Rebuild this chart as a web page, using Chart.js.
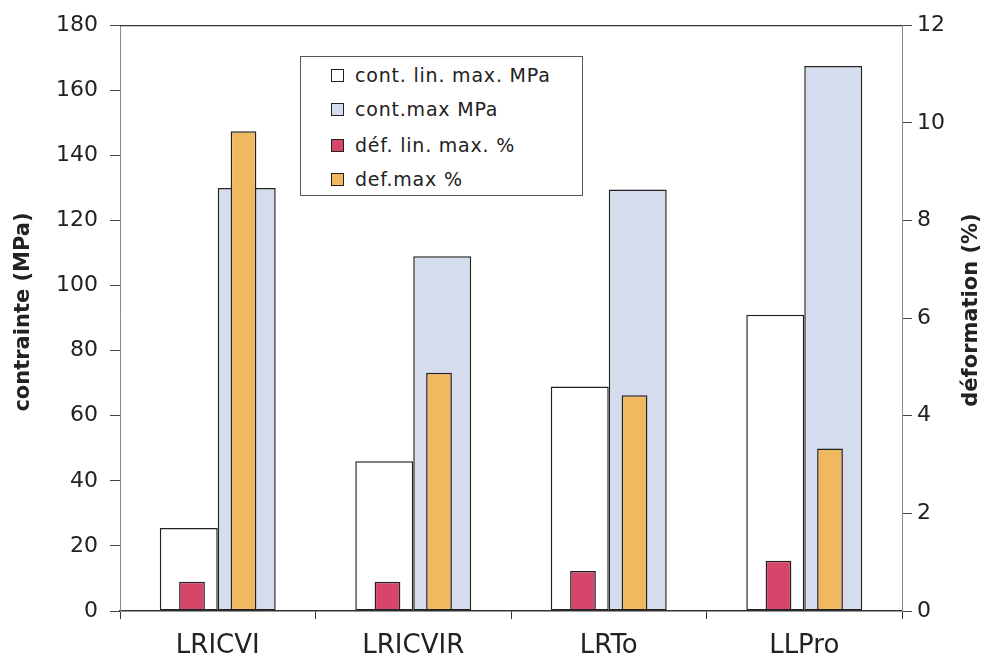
<!DOCTYPE html>
<html>
<head>
<meta charset="utf-8">
<script src="https://cdn.jsdelivr.net/npm/chart.js@4.4.1/dist/chart.umd.min.js"></script>
<style>
  html, body { margin: 0; padding: 0; background: #fff; }
  #wrap { position: relative; width: 984px; height: 666px; }
  #legend {
    position: absolute; left: 300px; top: 56px; width: 283px; height: 140px;
    border: 1px solid #555; background: #fff; box-sizing: border-box;
    font-family: "DejaVu Sans", sans-serif; font-size: 19px; color: #222;
    letter-spacing: 0.8px;
  }
  #legend .item { position: absolute; left: 30px; height: 22px; line-height: 22px; white-space: nowrap; }
  #legend .sw { display: inline-block; width: 11px; height: 11px; border: 1.5px solid #222; vertical-align: middle; margin-right: 11px; position: relative; top: -1px; }
</style>
</head>
<body>
<div id="wrap">
  <canvas id="chart" width="984" height="666"></canvas>
  <div id="legend"></div>
</div>
<script>
const categories = ["LRICVI", "LRICVIR", "LRTo", "LLPro"];
const contLinMax = [25.5, 46, 69, 91];      // MPa, left axis
const contMax = [130, 109, 129.5, 167.5];    // MPa, left axis
const defLinMax = [0.6, 0.6, 0.82, 1.03];    // %, right axis
const defMax = [9.83, 4.88, 4.42, 3.33];     // %, right axis
const leftTicks = [0, 20, 40, 60, 80, 100, 120, 140, 160, 180];
const rightTicks = [0, 2, 4, 6, 8, 10, 12];

const seriesNames = ["cont. lin. max. MPa", "cont.max MPa", "déf. lin. max. %", "def.max %"];
const seriesColors = ["#ffffff", "#d5dcee", "#d6466b", "#f0b95f"];

const FONT = "'DejaVu Sans', sans-serif";

// axis titles + top frame line
const framePlugin = {
  id: "frame",
  afterDraw(chart) {
    const { ctx, chartArea: a } = chart;
    ctx.save();
    ctx.strokeStyle = "#333";
    ctx.lineWidth = 1.2;
    ctx.beginPath();
    ctx.moveTo(a.left, a.top + 0.5);
    ctx.lineTo(a.right, a.top + 0.5);
    ctx.stroke();

    ctx.fillStyle = "#222";
    ctx.font = "bold 21px " + FONT;
    ctx.textAlign = "center";
    ctx.textBaseline = "middle";
    ctx.translate(24, 312);
    ctx.rotate(-Math.PI / 2);
    ctx.fillText("contrainte (MPa)", 0, 0);
    ctx.restore();

    ctx.save();
    ctx.fillStyle = "#222";
    ctx.font = "bold 21px " + FONT;
    ctx.textAlign = "center";
    ctx.textBaseline = "middle";
    ctx.translate(972, 310);
    ctx.rotate(-Math.PI / 2);
    ctx.fillText("déformation (%)", 0, 0);
    ctx.restore();
  }
};

// primary (MPa) bars fill the slot, the % bars sit narrower on top in the same two slots
const barBase = { borderColor: "#222", borderWidth: 1.5, borderSkipped: false };

const ctx = document.getElementById("chart").getContext("2d");
const chart = new Chart(ctx, {
  type: "bar",
  data: {
    labels: categories,
    datasets: [
      { ...barBase, label: seriesNames[0], data: contLinMax, backgroundColor: seriesColors[0], yAxisID: "y", stack: "s1", order: 1, categoryPercentage: 0.593, barPercentage: 1.0 },
      { ...barBase, label: seriesNames[1], data: contMax, backgroundColor: seriesColors[1], yAxisID: "y", stack: "s2", order: 1, categoryPercentage: 0.593, barPercentage: 1.0 },
      { ...barBase, label: seriesNames[2], data: defLinMax, backgroundColor: seriesColors[2], yAxisID: "y2", stack: "s1", order: 0, categoryPercentage: 0.527, barPercentage: 0.5 },
      { ...barBase, label: seriesNames[3], data: defMax, backgroundColor: seriesColors[3], yAxisID: "y2", stack: "s2", order: 0, categoryPercentage: 0.527, barPercentage: 0.5 }
    ]
  },
  options: {
    responsive: false,
    animation: false,
    layout: { padding: { top: 24, left: 0, right: 0, bottom: 0 } },
    plugins: { legend: { display: false }, tooltip: { enabled: false } },
    scales: {
      x: {
        position: "bottom",
        offset: true,
        grid: { display: true, drawOnChartArea: false, offset: true, tickLength: 8, color: "#333" },
        border: { display: true, color: "#333", width: 1.5 },
        ticks: { color: "#222", font: { family: FONT, size: 26 }, padding: 12 },
        afterFit(s) { s.height = 55; }
      },
      y: {
        position: "left",
        stacked: false,
        min: 0, max: 180,
        afterBuildTicks(s) { s.ticks = leftTicks.map(v => ({ value: v })); },
        grid: { drawOnChartArea: false, tickLength: 10, color: "#444" },
        border: { display: true, color: "#888", width: 1 },
        ticks: { color: "#222", font: { family: FONT, size: 22 }, padding: 12 },
        afterFit(s) { s.width = 120; }
      },
      y2: {
        position: "right",
        stacked: false,
        min: 0, max: 12,
        afterBuildTicks(s) { s.ticks = rightTicks.map(v => ({ value: v })); },
        grid: { drawOnChartArea: false, tickLength: 10, color: "#444" },
        border: { display: true, color: "#888", width: 1 },
        ticks: { color: "#222", font: { family: FONT, size: 22 }, padding: 5 },
        afterFit(s) { s.width = 82; }
      }
    }
  },
  plugins: [framePlugin]
});

// legend box inside the plot, built from the series arrays
const legend = document.getElementById("legend");
const rowTops = [7, 41, 77, 111];
seriesNames.forEach((name, i) => {
  const item = document.createElement("div");
  item.className = "item";
  item.style.top = rowTops[i] + "px";
  item.innerHTML = `<span class="sw" style="background:${seriesColors[i]}"></span>${name}`;
  legend.appendChild(item);
});
</script>
</body>
</html>
